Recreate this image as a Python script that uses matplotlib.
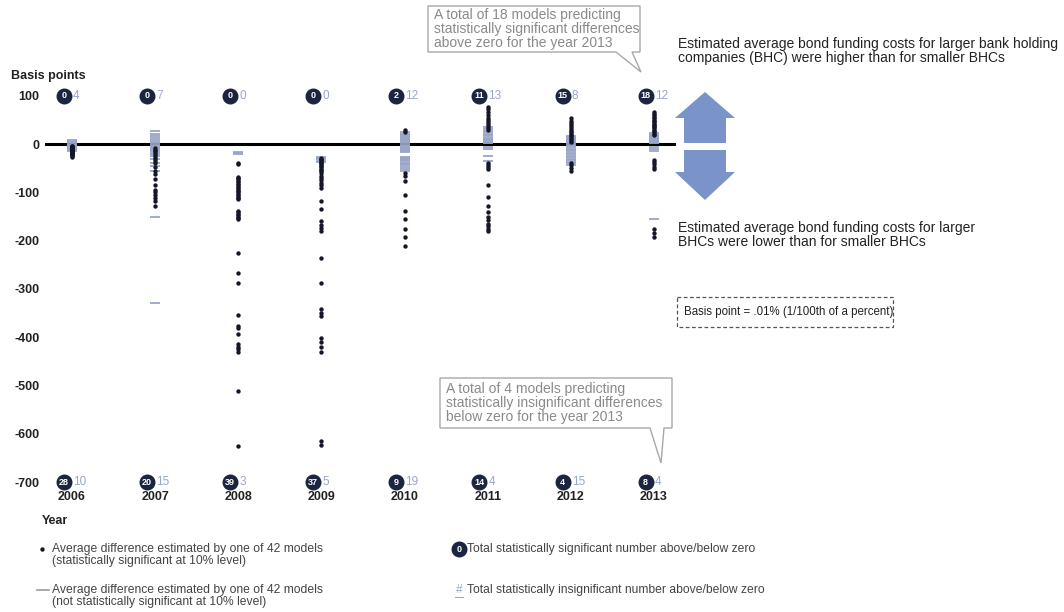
import matplotlib.pyplot as plt
from matplotlib.patches import Polygon, Rectangle

plt.rcParams['font.family'] = ['Liberation Sans', 'DejaVu Sans']

years = [2006, 2007, 2008, 2009, 2010, 2011, 2012, 2013]

# model estimates (basis points), statistically significant at 10%
sig_2006 = [-3, -4, -5, -5, -6, -6, -7, -8, -8, -9, -10, -10, -11, -12, -12, -13,
            -14, -14, -15, -16, -17, -18, -19, -20, -21, -22, -24, -27]
sig_2007 = [-8, -12, -15, -18, -22, -26, -30, -35, -40, -48, -55, -62, -72, -85,
            -95, -99, -105, -112, -118, -128]
sig_2008 = [-40, -42, -68, -70, -73, -76, -79, -82, -85, -88, -91, -94, -97, -100,
            -103, -106, -109, -112, -114, -138, -141, -144, -147, -150, -153, -155,
            -225, -267, -287, -353, -376, -380, -394, -415, -420, -425, -430, -512, -626]
sig_2009 = [-28, -30, -32, -33, -36, -38, -40, -44, -46, -48, -52, -54, -56, -60,
            -65, -70, -75, -80, -85, -90, -118, -134, -160, -167, -174, -180, -236,
            -287, -341, -349, -357, -401, -410, -420, -430, -616, -624]
sig_2010 = [25, 30, -60, -66, -76, -105, -138, -155, -175, -192, -211]
sig_2011 = [78, 72, 66, 60, 55, 50, 46, 42, 38, 34, 30, -40, -44, -48, -52, -85,
            -110, -128, -140, -151, -158, -165, -170, -175, -180]
sig_2012 = [54, 48, 44, 40, 36, 32, 28, 25, 22, 19, 16, 13, 10, 7, 4,
            -38, -44, -50, -56]
sig_2013 = [66, 63, 60, 57, 54, 51, 48, 45, 42, 40, 38, 35, 33, 30, 28, 25, 22, 20,
            -33, -37, -42, -47, -52, -175, -183, -192]

# model estimates (basis points), not statistically significant
insig_2006 = [3, 5, 7, 9, -1, -2, -3, -4, -6, -7, -9, -11, -13, -15]
insig_2007 = [2, 5, 8, 12, 17, 22, 27, -2, -4, -6, -8, -10, -13, -16, -20, -25,
              -30, -38, -45, -55, -151, -330]
insig_2008 = [-17, -19, -21]
insig_2009 = [-27, -29, -31, -34, -37]
insig_2010 = [2, 4, 6, 8, 10, 12, 14, 16, 18, 20, 22, 26, -2, -4, -6, -8, -10, -12,
              -14, -16, -26, -28, -30, -32, -35, -38, -41, -44, -48, -52, -56]
insig_2011 = [2, 4, 6, 8, 10, 13, 16, 19, 22, 25, 28, 31, 35, -5, -10, -25, -35]
insig_2012 = [2, 4, 6, 8, 10, 12, 15, 18, -2, -4, -6, -9, -12, -15, -18, -21, -24,
              -27, -30, -33, -36, -40, -44]
insig_2013 = [2, 4, 6, 8, 10, 12, 14, 16, 18, 20, 22, 24, -6, -10, -14, -155]

sig = [sig_2006, sig_2007, sig_2008, sig_2009, sig_2010, sig_2011, sig_2012, sig_2013]
insig = [insig_2006, insig_2007, insig_2008, insig_2009, insig_2010, insig_2011,
         insig_2012, insig_2013]

yticks = [100, 0, -100, -200, -300, -400, -500, -600, -700]

DOT = '#16162a'
DASH = '#9aa6c8'
NAVY = '#1b2540'
TXT = '#444444'

fig = plt.figure(figsize=(10.64, 6.12), dpi=100)
ax = fig.add_axes([45 / 1064, 1 - 488 / 612, 631 / 1064, 408 / 612])
ax.set_xlim(2005.675, 2013.265)
ax.set_ylim(-712.4, 133)
for s in ax.spines.values():
    s.set_visible(False)

ax.axhline(0, color='black', lw=2.2, zorder=2)

for yr, sv, iv in zip(years, sig, insig):
    ax.scatter([yr] * len(iv), iv, marker='_', s=55, linewidths=1.3,
               color=DASH, zorder=3)
    ax.scatter([yr] * len(sv), sv, marker='o', s=10, color=DOT, lw=0, zorder=4)

    # counts above / below zero
    for y0, n_sig, n_ins in [
        (100, sum(v > 0 for v in sv), sum(v > 0 for v in iv)),
        (-700, sum(v < 0 for v in sv), sum(v < 0 for v in iv)),
    ]:
        ax.scatter(yr - 0.1, y0, s=110, color=NAVY, zorder=5, clip_on=False)
        ax.text(yr - 0.1, y0, str(n_sig), color='white', fontsize=6.5,
                fontweight='bold', ha='center', va='center', zorder=6)
        ax.text(yr + 0.01, y0, str(n_ins), color=DASH, fontsize=8.5,
                ha='left', va='center', zorder=6)

ax.set_yticks(yticks)
ax.set_yticklabels([str(v) for v in yticks], fontweight='bold', fontsize=9,
                   color='#222222')
ax.set_xticks(years)
ax.set_xticklabels([str(y) for y in years], fontweight='bold', fontsize=9,
                   color='#222222')
ax.tick_params(length=0, axis='y', pad=4)
ax.tick_params(length=0, axis='x', pad=2)

# overlay in pixel coordinates for annotations
ov = fig.add_axes([0, 0, 1, 1], zorder=10)
ov.set_xlim(0, 1064)
ov.set_ylim(612, 0)
ov.axis('off')
ov.patch.set_alpha(0)

ov.text(11, 76, 'Basis points', fontsize=9, fontweight='bold', color='#222222',
        va='center')
ov.text(42, 521, 'Year', fontsize=9, fontweight='bold', color='#222222',
        va='center')

# up / down block arrows
arrow_c = '#7a93c9'
ov.add_patch(Polygon([(675, 118), (705, 92), (735, 118), (726, 118), (726, 143),
                      (684, 143), (684, 118)], closed=True, fc=arrow_c, ec='none'))
ov.add_patch(Polygon([(684, 150), (726, 150), (726, 172), (735, 172), (705, 200),
                      (675, 172), (684, 172)], closed=True, fc=arrow_c, ec='none'))

ov.text(678, 51, 'Estimated average bond funding costs for larger bank holding\n'
        'companies (BHC) were higher than for smaller BHCs',
        fontsize=10, color='#222222', va='center', linespacing=1.0)
ov.text(678, 235, 'Estimated average bond funding costs for larger\n'
        'BHCs were lower than for smaller BHCs',
        fontsize=10, color='#222222', va='center', linespacing=1.0)

# callouts
box_ec = '#a8a8a8'
ov.add_patch(Polygon([(428, 6), (640, 6), (640, 52), (632, 52), (641, 72),
                      (616, 52), (428, 52)], closed=True, fc='white', ec=box_ec, lw=1))
ov.text(434, 29, 'A total of 18 models predicting\nstatistically significant differences\n'
        'above zero for the year 2013', fontsize=10, color='#8a8a8a', va='center',
        linespacing=1.0)

ov.add_patch(Polygon([(440, 378), (672, 378), (672, 428), (664, 428), (661, 463),
                      (650, 428), (440, 428)], closed=True, fc='white', ec=box_ec, lw=1))
ov.text(446, 403, 'A total of 4 models predicting\nstatistically insignificant differences\n'
        'below zero for the year 2013', fontsize=10, color='#8a8a8a', va='center',
        linespacing=1.0)

ov.add_patch(Rectangle((677, 297), 216, 30, fc='none', ec='#555555', lw=0.9,
                       ls=(0, (3, 2))))
ov.text(684, 312, 'Basis point = .01% (1/100th of a percent)', fontsize=8.3,
        color='#222222', va='center')

# legend
ov.scatter([42], [549], s=10, color=DOT, lw=0)
ov.text(52, 555, 'Average difference estimated by one of 42 models\n'
        '(statistically significant at 10% level)', fontsize=8.7, color=TXT,
        va='center', linespacing=1.0)
ov.plot([37, 49], [590, 590], color='#999999', lw=1.2)
ov.text(52, 596, 'Average difference estimated by one of 42 models\n'
        '(not statistically significant at 10% level)', fontsize=8.7, color=TXT,
        va='center', linespacing=1.0)
ov.scatter([459], [549], s=110, color=NAVY)
ov.text(459, 549, '0', color='white', fontsize=6.5, fontweight='bold',
        ha='center', va='center')
ov.text(467, 549, 'Total statistically significant number above/below zero',
        fontsize=8.7, color=TXT, va='center')
ov.text(459, 590, '#', color=DASH, fontsize=8.5, ha='center', va='center')
ov.plot([455, 463], [597, 597], color=DASH, lw=0.8)
ov.text(467, 590, 'Total statistically insignificant number above/below zero',
        fontsize=8.7, color=TXT, va='center')

fig.savefig('out.png', dpi=100)
